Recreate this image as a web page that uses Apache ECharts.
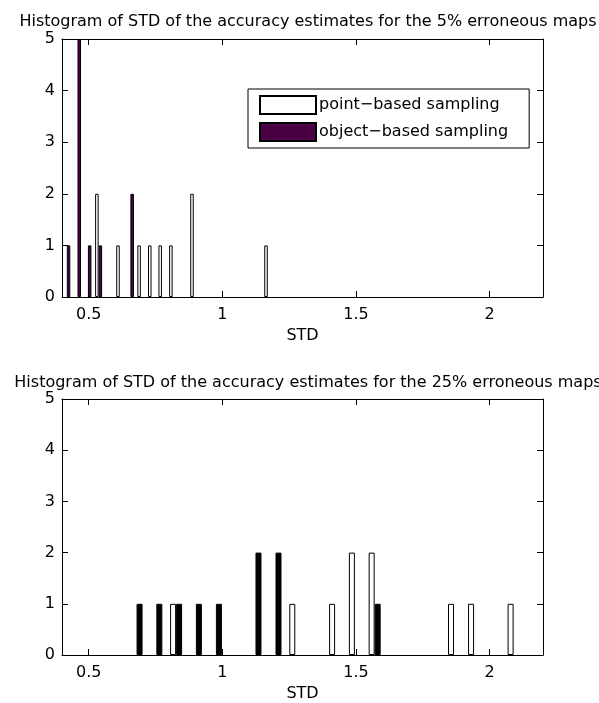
<!DOCTYPE html>
<html>
<head>
<meta charset="utf-8">
<script src="https://cdn.jsdelivr.net/npm/echarts@6/dist/echarts.min.js"></script>
<style>
  html, body { margin: 0; padding: 0; background: #fff; }
  #chart { width: 599px; height: 703px; }
</style>
</head>
<body>
<div id="chart"></div>
<script>
// 5% erroneous maps (bin centres, counts)
const topPointX = [0.537, 0.616, 0.695, 0.735, 0.774, 0.814, 0.893, 1.170];
const topPointY = [2, 1, 1, 1, 1, 1, 2, 1];
const topObjectX = [0.418, 0.458, 0.497, 0.537, 0.656];
const topObjectY = [1, 5, 1, 1, 2];

// 25% erroneous maps
const bottomPointX = [0.827, 1.273, 1.422, 1.496, 1.570, 1.867, 1.942, 2.090];
const bottomPointY = [1, 1, 1, 2, 2, 1, 1, 1];
const bottomObjectX = [0.679, 0.753, 0.827, 0.901, 0.976, 1.124, 1.199, 1.570];
const bottomObjectY = [1, 1, 1, 1, 1, 2, 2, 1];

const xTicks = [0.5, 1, 1.5, 2];
const titles = [
  'Histogram of STD of the accuracy estimates for the 5% erroneous maps',
  'Histogram of STD of the accuracy estimates for the 25% erroneous maps'
];
const seriesNames = ['point\u2212based sampling', 'object\u2212based sampling'];

const FONT = 'DejaVu Sans';
const grids = [
  { left: 62, right: 56, top: 39, height: 258 },
  { left: 62, right: 56, top: 399, height: 258 }
];

const pairs = (xs, ys) => xs.map((x, i) => [x, ys[i]]);

function xAxes(gridIndex) {
  const base = {
    type: 'value',
    gridIndex,
    min: 0.4,
    max: 2.2,
    splitLine: { show: false },
    axisLine: { show: true, onZero: false, lineStyle: { color: '#000', width: 1 } },
    axisTick: { show: true, inside: true, length: 6, customValues: xTicks, lineStyle: { color: '#000', width: 1 } },
  };
  return [
    {
      ...base,
      position: 'bottom',
      name: 'STD',
      nameLocation: 'middle',
      nameGap: 31,
      nameTextStyle: { fontFamily: FONT, fontSize: 16, color: '#000' },
      axisLabel: { customValues: xTicks, margin: 10, fontFamily: FONT, fontSize: 16, color: '#000' },
    },
    { ...base, position: 'top', axisLabel: { show: false } }
  ];
}

function yAxes(gridIndex) {
  const base = {
    type: 'value',
    gridIndex,
    min: 0,
    max: 5,
    interval: 1,
    splitLine: { show: false },
    axisLine: { show: true, onZero: false, lineStyle: { color: '#000', width: 1 } },
    axisTick: { show: true, inside: true, length: 6, lineStyle: { color: '#000', width: 1 } },
  };
  return [
    { ...base, position: 'left', axisLabel: { margin: 7, fontFamily: FONT, fontSize: 16, color: '#000' } },
    { ...base, position: 'right', axisLabel: { show: false } }
  ];
}

function barSeries(name, xi, yi, xs, ys, width, fill) {
  return {
    type: 'bar',
    name,
    xAxisIndex: xi,
    yAxisIndex: yi,
    barWidth: width,
    barGap: 0,
    itemStyle: { color: fill, borderColor: '#000', borderWidth: 1 },
    emphasis: { disabled: true },
    data: pairs(xs, ys),
  };
}

const option = {
  animation: false,
  backgroundColor: '#fff',
  title: titles.map((t, i) => ({
    text: t,
    left: 303,
    textAlign: 'center',
    top: i === 0 ? 9 : 370,
    textStyle: { fontFamily: FONT, fontSize: 16, fontWeight: 'normal', color: '#000' },
  })),
  grid: grids,
  xAxis: [...xAxes(0), ...xAxes(1)],
  yAxis: [...yAxes(0), ...yAxes(1)],
  legend: {
    data: seriesNames,
    orient: 'vertical',
    left: 248,
    top: 89,
    icon: 'rect',
    itemWidth: 56,
    itemHeight: 18,
    itemGap: 7,
    padding: [6, 21, 6, 11],
    borderColor: '#000',
    borderWidth: 1,
    backgroundColor: '#fff',
    selectedMode: false,
    textStyle: { fontFamily: FONT, fontSize: 16, color: '#000', padding: [0, 0, 0, -2] },
  },
  series: [
    barSeries(seriesNames[0], 0, 0, topPointX, topPointY, 3.5, '#ffffff'),
    barSeries(seriesNames[1], 0, 0, topObjectX, topObjectY, 3.5, '#4a0044'),
    barSeries('point (25%)', 2, 2, bottomPointX, bottomPointY, 6, '#ffffff'),
    barSeries('object (25%)', 2, 2, bottomObjectX, bottomObjectY, 6, '#000000'),
  ]
};

const myChart = echarts.init(document.getElementById('chart'));
myChart.setOption(option);
</script>
</body>
</html>
